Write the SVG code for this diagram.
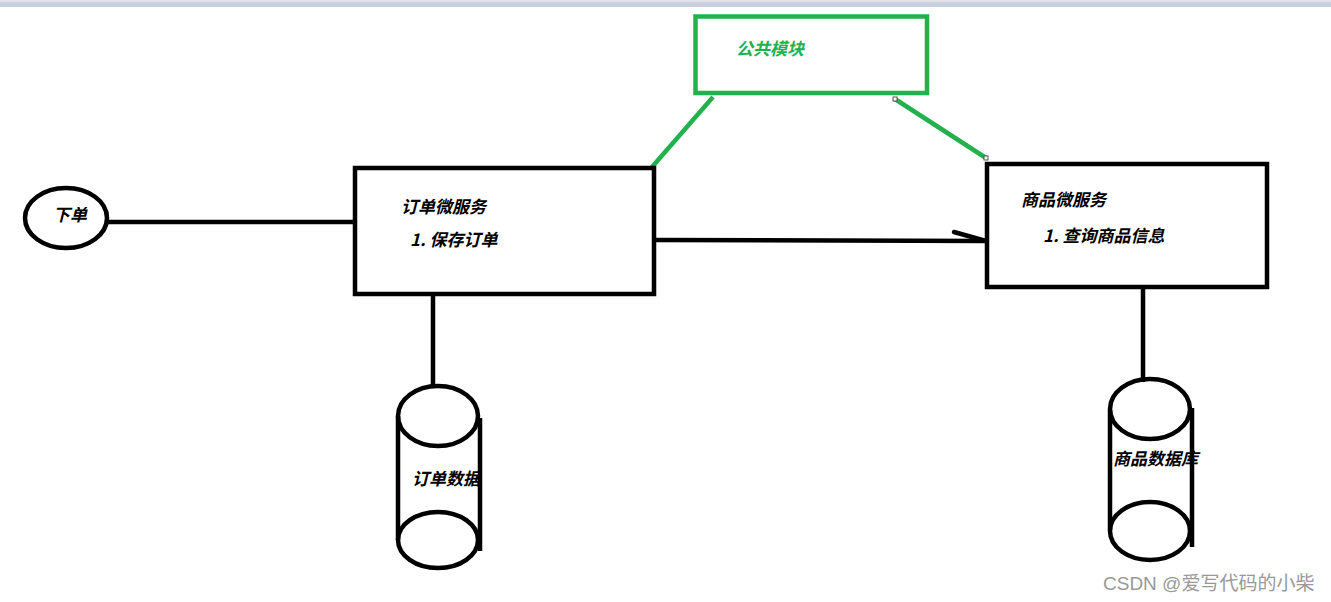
<svg xmlns="http://www.w3.org/2000/svg" width="1331" height="602" viewBox="0 0 1331 602">
<style>
.k{fill:none;stroke:#000;stroke-width:4.5}
.g{fill:none;stroke:#22b14c;stroke-width:4.5}
.t{font-family:"Noto Sans CJK SC","Liberation Serif",serif;font-style:italic;font-weight:bold;font-size:17px;fill:#000}
.h{fill:#fff;stroke:#555;stroke-width:1}
</style>
<defs>
<clipPath id="c1"><rect x="398" y="440" width="81" height="80"/></clipPath>
</defs>
<rect width="1331" height="602" fill="#fff"/>
<rect x="0" y="0" width="1331" height="2" fill="#e2e4e8"/>
<rect x="0" y="2" width="1331" height="5" fill="#c6d0e0"/>
<g id="connectors">
<line class="k" x1="107" y1="222" x2="355" y2="222"/>
<line class="k" x1="656" y1="240" x2="987" y2="241"/>
<line class="k" x1="954" y1="232" x2="986" y2="241" stroke-linecap="round"/>
<line class="k" x1="433" y1="294" x2="433" y2="386"/>
<line class="k" x1="1143" y1="287" x2="1143" y2="382"/>
<line class="g" x1="713" y1="97" x2="652" y2="167"/>
<line class="g" x1="895" y1="99" x2="986" y2="158"/>
<rect class="h" x="893" y="97" width="4" height="4"/>
<rect class="h" x="984" y="156" width="4" height="4"/>
</g>
<g id="common">
<rect class="g" x="695.5" y="16.5" width="231.5" height="76.5"/>
<text class="t" x="736" y="55" style="fill:#22b14c">公共模块</text>
</g>
<g id="order-start">
<ellipse class="k" cx="66" cy="218" rx="41" ry="30"/>
<text class="t" x="53" y="221">下单</text>
</g>
<g id="order-service">
<rect class="k" x="355" y="168" width="299" height="126"/>
<text class="t" x="401" y="213">订单微服务</text>
<text class="t" x="410" y="246">1. 保存订单</text>
</g>
<g id="product-service">
<rect class="k" x="987" y="164" width="280" height="123"/>
<text class="t" x="1021" y="206">商品微服务</text>
<text class="t" x="1043" y="242">1. 查询商品信息</text>
</g>
<g id="order-db">
<line class="k" x1="398" y1="416" x2="398" y2="540"/>
<line class="k" x1="480" y1="418" x2="480" y2="551"/>
<ellipse class="k" cx="438" cy="416" rx="40" ry="30"/>
<ellipse class="k" cx="438" cy="540" rx="40" ry="28"/>
<text class="t" x="412" y="485" clip-path="url(#c1)">订单数据库</text>
</g>
<g id="product-db">
<line class="k" x1="1110" y1="410" x2="1110" y2="530"/>
<line class="k" x1="1192" y1="408" x2="1192" y2="547"/>
<ellipse class="k" cx="1150" cy="409" rx="40" ry="30"/>
<ellipse class="k" cx="1150" cy="531" rx="40" ry="29"/>
<text class="t" x="1113" y="465">商品数据库</text>
</g>
<text x="1103" y="590" style="font-family:'Liberation Sans','Noto Sans CJK SC',sans-serif;font-size:19px;fill:#999">CSDN @爱写代码的小柴</text>
</svg>
